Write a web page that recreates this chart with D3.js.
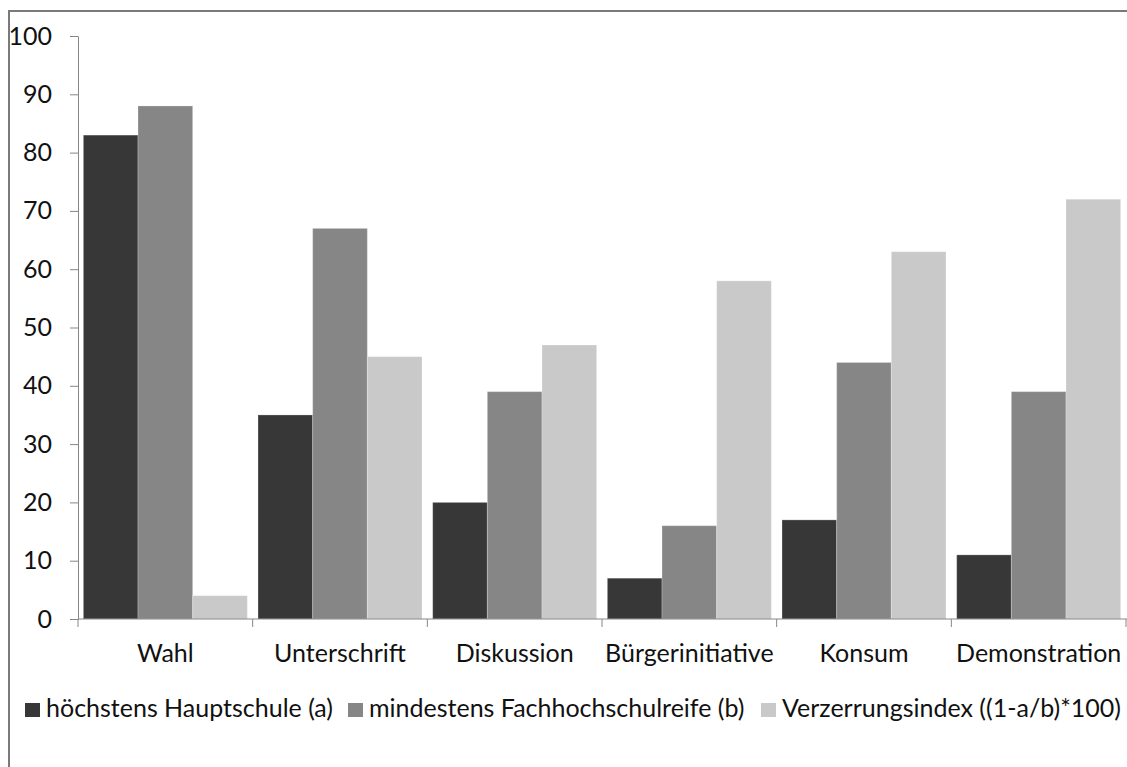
<!DOCTYPE html>
<html><head><meta charset="utf-8">
<script src="https://cdn.jsdelivr.net/npm/d3@7"></script>
<style>
html,body{margin:0;padding:0;background:#fff;}
svg{display:block;}
text{font-family:Lato,"Open Sans",sans-serif;fill:#111;}
</style></head>
<body>
<svg id="c" width="1127" height="767"></svg>
<script>
const categories = ["Wahl","Unterschrift","Diskussion","Bürgerinitiative","Konsum","Demonstration"];
const seriesNames = ["höchstens Hauptschule (a)","mindestens Fachhochschulreife (b)","Verzerrungsindex ((1-a/b)*100)"];
const hauptschule = [83,35,20,7,17,11];
const fachhochschulreife = [88,67,39,16,44,39];
const verzerrung = [4,45,47,58,63,72];
const yTicks = [0,10,20,30,40,50,60,70,80,90,100];
const colors = ["#373737","#868686","#c9c9c9"];

const series = [hauptschule, fachhochschulreife, verzerrung];
const svg = d3.select("#c");
const FS = "25px";

// frame
svg.append("path").attr("d","M9,767 L9,11 L1127,11").attr("fill","none").attr("stroke","#7a7a7a").attr("stroke-width",2);

const x0 = d3.scaleBand().domain(categories).range([78,1126]).paddingInner(0).paddingOuter(0);
const inner = d3.scaleBand().domain([0,1,2]).range([0,x0.bandwidth()]).paddingOuter(0.098).paddingInner(0);
const y = d3.scaleLinear().domain([0,100]).range([619,36]);

// bars
const g = svg.append("g");
categories.forEach((c,i)=>{
  series.forEach((s,k)=>{
    g.append("rect")
      .attr("x", x0(c)+inner(k))
      .attr("y", y(s[i]))
      .attr("width", inner.bandwidth())
      .attr("height", y(0)-y(s[i]))
      .attr("fill", colors[k])
      .attr("stroke","#ffffff").attr("stroke-opacity",0.25).attr("stroke-width",1);
  });
});

// y axis
const ya = svg.append("g").attr("transform","translate(78,0)")
  .call(d3.axisLeft(y).tickValues(yTicks).tickSize(8).tickSizeOuter(0).tickPadding(18));
ya.select(".domain").attr("stroke","#868686");
ya.selectAll(".tick line").attr("stroke","#868686");
ya.selectAll("text").style("font-size",FS).attr("fill","#111").style("font-family","Lato");

// x axis
const xa = svg.append("g").attr("transform","translate(0,619)")
  .call(d3.axisBottom(x0).tickSize(0).tickPadding(25));
xa.select(".domain").attr("stroke","#868686").attr("d","M78,0H1127");
xa.selectAll("text").style("font-size",FS).attr("fill","#111").style("font-family","Lato");
const bounds = [...categories.map(c=>x0(c)), x0.range()[1]];
xa.selectAll(".sep").data(bounds).enter().append("line").attr("class","sep")
  .attr("x1",d=>d).attr("x2",d=>d).attr("y1",0).attr("y2",8).attr("stroke","#868686");

// legend
const legX = [25, 348, 761];
const lg = svg.append("g");
seriesNames.forEach((n,k)=>{
  lg.append("rect").attr("x",legX[k]).attr("y",703).attr("width",15).attr("height",14).attr("fill",colors[k]);
  lg.append("text").attr("x",legX[k]+21).attr("y",717).style("font-size",FS).text(n);
});
</script>
</body></html>
